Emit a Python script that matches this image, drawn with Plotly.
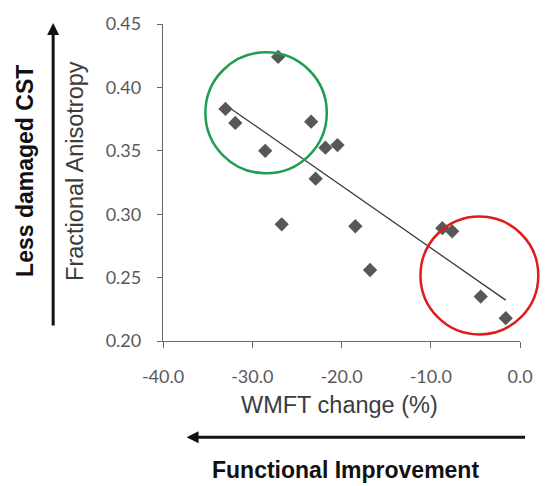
import numpy as np
import plotly.graph_objects as go

# WMFT change (%) vs. fractional anisotropy of the corticospinal tract
wmft_change = [-33.0, -31.9, -27.1, -28.55, -26.7, -23.4, -22.9, -21.8, -20.45,
               -18.45, -16.8, -8.7, -7.6, -4.4, -1.6]
fa_values = [0.383, 0.372, 0.424, 0.350, 0.292, 0.373, 0.328, 0.3525, 0.3545,
             0.2905, 0.256, 0.289, 0.2865, 0.235, 0.218]

x_ticks = [-40, -30, -20, -10, 0]
x_tick_labels = ["-40.0", "-30.0", "-20.0", "-10.0", "0.0"]
y_ticks = [0.20, 0.25, 0.30, 0.35, 0.40, 0.45]
y_tick_labels = ["0.20", "0.25", "0.30", "0.35", "0.40", "0.45"]
x_range = [-40, 0]
y_range = [0.20, 0.45]

# highlighted groups: (centre x, centre y, half-width in x, half-height in y)
good_group = (-28.45, 0.380, 6.8, 0.0477)
poor_group = (-4.55, 0.2517, 6.6, 0.0465)

# least-squares trend line across the observed x span
slope, intercept = np.polyfit(wmft_change, fa_values, 1)
trend_x = [min(wmft_change), max(wmft_change)]
trend_y = [slope * v + intercept for v in trend_x]

W, H = 545, 486
M = dict(l=163, r=18, t=18, b=145)


def to_paper(x, y):
    px = (x - x_range[0]) / (x_range[1] - x_range[0])
    py = (y - y_range[0]) / (y_range[1] - y_range[0])
    return px, py


def ellipse(group, color):
    cx, cy, rx, ry = group
    x0, y0 = to_paper(cx - rx, cy - ry)
    x1, y1 = to_paper(cx + rx, cy + ry)
    return dict(type="circle", xref="paper", yref="paper", x0=x0, x1=x1,
                y0=y0, y1=y1, line=dict(color=color, width=2.5), layer="above")


fig = go.Figure()
fig.add_trace(go.Scatter(x=trend_x, y=trend_y, mode="lines",
                         line=dict(color="#3a3a3a", width=1.3), hoverinfo="skip"))
fig.add_trace(go.Scatter(x=wmft_change, y=fa_values, mode="markers",
                         marker=dict(symbol="diamond", size=11, color="#575757")))

tick_font = dict(family="Lato, Arial, sans-serif", size=18, color="#595959")
axis_common = dict(showgrid=False, zeroline=False, showline=True, linecolor="#6a6a6a",
                   linewidth=1.3, ticks="outside", tickcolor="#6a6a6a", tickwidth=1.3,
                   tickfont=tick_font, fixedrange=True)

fig.update_xaxes(range=x_range, tickvals=x_ticks, ticktext=x_tick_labels, ticklen=6,
                 ticklabelstandoff=13, **axis_common)
fig.update_yaxes(range=y_range, tickvals=y_ticks, ticktext=y_tick_labels, ticklen=5,
                 ticklabelstandoff=12, **axis_common)

pw = W - M["l"] - M["r"]
ph = H - M["t"] - M["b"]


def pix(px, py):
    # pixel position in the page -> paper coordinates
    return (px - M["l"]) / pw, (H - M["b"] - py) / ph


title_font = dict(family="Liberation Sans, Arial, sans-serif", size=23.5, color="#3c3c3c")
bold_font = dict(family="Liberation Sans, Arial, sans-serif", size=23, color="#111111")

annotations = []
ax_x, ax_y = pix(342.5, 406)
annotations.append(dict(text="WMFT change (%)", x=ax_x, y=ax_y, xref="paper", yref="paper",
                        showarrow=False, font=title_font, xanchor="center", yanchor="middle"))
ay_x, ay_y = pix(74, 168)
annotations.append(dict(text="Fractional Anisotropy", x=ay_x, y=ay_y, xref="paper",
                        yref="paper", showarrow=False, font=title_font, textangle=-90,
                        xanchor="center", yanchor="middle"))
l_x, l_y = pix(23, 168)
annotations.append(dict(text="<b>Less damaged CST</b>", x=l_x, y=l_y, xref="paper",
                        yref="paper", showarrow=False, font=bold_font, textangle=-90,
                        xanchor="center", yanchor="middle"))
f_x, f_y = pix(349, 472)
annotations.append(dict(text="<b>Functional Improvement</b>", x=f_x, y=f_y, xref="paper",
                        yref="paper", showarrow=False, font=bold_font,
                        xanchor="center", yanchor="middle"))

# direction arrows (tail offsets in pixels from the tip)
tip_x, tip_y = pix(51, 17)
annotations.append(dict(x=tip_x, y=tip_y, ax=0, ay=304, xref="paper", yref="paper",
                        axref="pixel", ayref="pixel", text="", showarrow=True,
                        arrowhead=2, arrowsize=0.8, arrowwidth=3, arrowcolor="#111111"))
tip_x, tip_y = pix(187, 439)
annotations.append(dict(x=tip_x, y=tip_y, ax=340, ay=0, xref="paper", yref="paper",
                        axref="pixel", ayref="pixel", text="", showarrow=True,
                        arrowhead=2, arrowsize=0.8, arrowwidth=3, arrowcolor="#111111"))

fig.update_layout(
    width=W, height=H, margin=M, showlegend=False,
    paper_bgcolor="white", plot_bgcolor="white",
    shapes=[ellipse(good_group, "#1f9e4f"), ellipse(poor_group, "#dd1c1c")],
    annotations=annotations,
)

fig.write_html("out.html")
